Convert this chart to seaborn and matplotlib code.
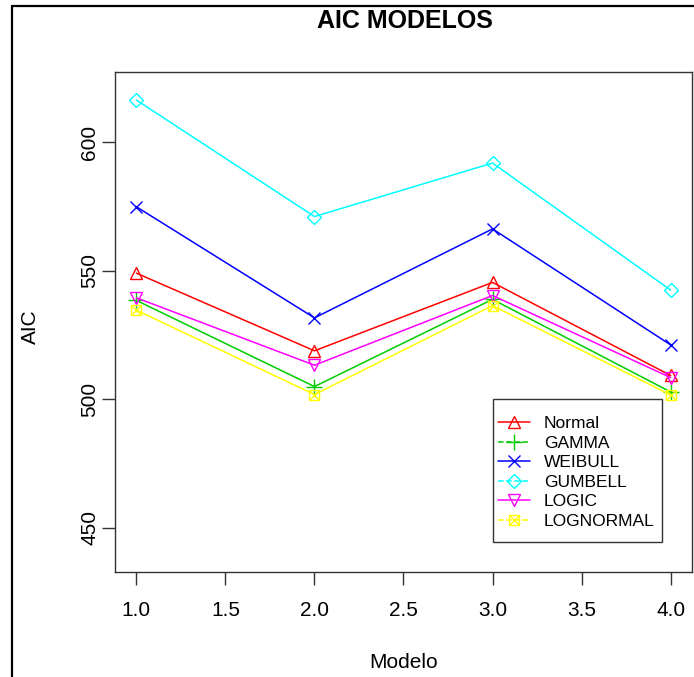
import matplotlib
matplotlib.use("Agg")
import matplotlib.pyplot as plt
from matplotlib.lines import Line2D
from matplotlib.patches import Rectangle
from matplotlib.legend_handler import HandlerTuple
import seaborn as sns
import pandas as pd

# AIC of each fitted distribution across the four models
modelo = [1, 2, 3, 4]
aic_normal = [549.0, 518.8, 545.4, 509.2]
aic_gamma = [538.4, 504.9, 538.8, 502.8]
aic_weibull = [574.8, 531.6, 566.2, 521.1]
aic_gumbell = [616.3, 571.0, 591.8, 542.4]
aic_logic = [539.4, 513.2, 540.3, 508.4]
aic_lognormal = [534.6, 501.8, 536.4, 501.6]

series_names = ["Normal", "GAMMA", "WEIBULL", "GUMBELL", "LOGIC", "LOGNORMAL"]
series_values = [aic_normal, aic_gamma, aic_weibull, aic_gumbell, aic_logic, aic_lognormal]
colors = ["#FF0000", "#00CD00", "#0000FF", "#00FFFF", "#FF00FF", "#FFFF00"]
markers = ["^", "+", "x", "D", "v", "s"]
marker_sizes = [8.5, 11, 9, 7, 8.5, 7]
legend_styles = ["-", "--", "-", "--", "-", "--"]

x_ticks = [1.0, 1.5, 2.0, 2.5, 3.0, 3.5, 4.0]
y_ticks = [450, 500, 550, 600]

df = pd.DataFrame({
    "Modelo": modelo * len(series_names),
    "AIC": [v for vals in series_values for v in vals],
    "serie": [n for n in series_names for _ in modelo],
})

sns.set_theme(style="white")
plt.rcParams["font.family"] = ["Liberation Sans", "DejaVu Sans"]

W, H = 694, 677
fig = plt.figure(figsize=(W / 100, H / 100), dpi=100)
ax = fig.add_axes([115 / W, 1 - 572 / H, (692 - 115) / W, (572 - 72) / H])

for name, col, mk, ms in zip(series_names, colors, markers, marker_sizes):
    sub = df[df["serie"] == name]
    sns.lineplot(data=sub, x="Modelo", y="AIC", color=col, marker=mk,
                 markersize=ms, mfc="none", mec=col, mew=1.0, lw=1.1,
                 ax=ax, legend=False, errorbar=None)
    if name == "LOGNORMAL":
        # boxed cross: overlay an x inside the square
        ax.plot(sub["Modelo"], sub["AIC"], linestyle="none", marker="x",
                markersize=ms, mec=col, mew=1.0)

# R-style axis limits: data range plus 4% on each side
ax.set_xlim(1 - 0.12, 4 + 0.12)
ax.set_ylim(440 - 7.2, 620 + 7.2)
ax.set_xticks(x_ticks)
ax.set_xticklabels([f"{t:.1f}" for t in x_ticks])
ax.set_yticks(y_ticks)
ax.set_yticklabels([str(t) for t in y_ticks], rotation=90, va="center")
ax.tick_params(axis="both", direction="out", length=9.5, width=1, color="#333333",
               labelsize=15, labelcolor="black", bottom=True, left=True)
ax.tick_params(axis="x", pad=11.5)
ax.tick_params(axis="y", pad=2)
for sp in ax.spines.values():
    sp.set_visible(True)
    sp.set_color("#333333")
    sp.set_linewidth(1.0)
ax.set_xlabel("")
ax.set_ylabel("")

fig.text(405 / W, 1 - 28 / H, "AIC MODELOS", ha="center", va="baseline",
         fontsize=18, fontweight="bold", color="black")
fig.text(404 / W, 1 - 663 / H, "Modelo", ha="center", va="center",
         fontsize=15, color="black")
fig.text(30 / W, 1 - 327 / H, "AIC", ha="center", va="center", rotation=90,
         fontsize=15, color="black")

# legend
handles = []
for name, col, mk, ms, ls in zip(series_names, colors, markers, marker_sizes, legend_styles):
    h = Line2D([], [], color=col, linestyle=ls, lw=1.1, marker=mk, markersize=ms,
               mfc="none", mec=col, mew=1.0)
    if name == "LOGNORMAL":
        hx = Line2D([], [], linestyle="none", marker="x", markersize=ms, mec=col, mew=1.0)
        h = (h, hx)
    handles.append(h)
leg = ax.legend(handles, series_names, loc="upper left",
                bbox_to_anchor=(498 / W, 1 - 416 / H), bbox_transform=fig.transFigure,
                fontsize=12.5, frameon=False, borderpad=0, labelspacing=0.25,
                handlelength=1.84, handletextpad=0.8, borderaxespad=0,
                labelcolor="black",
                handler_map={tuple: HandlerTuple(ndivide=1)})
fig.add_artist(Rectangle((493 / W, 1 - 542 / H), (662 - 493) / W, (542 - 399) / H,
                         transform=fig.transFigure, fill=False, edgecolor="#333333",
                         lw=1.0, zorder=5))

# outer device frame
fig.add_artist(Line2D([12 / W, 12 / W], [0, 1 - 6 / H], color="black", lw=1.6,
                      transform=fig.transFigure))
fig.add_artist(Line2D([12 / W, 1], [1 - 6 / H, 1 - 6 / H], color="black", lw=1.6,
                      transform=fig.transFigure))

fig.savefig("out.png", dpi=100, facecolor="white")
